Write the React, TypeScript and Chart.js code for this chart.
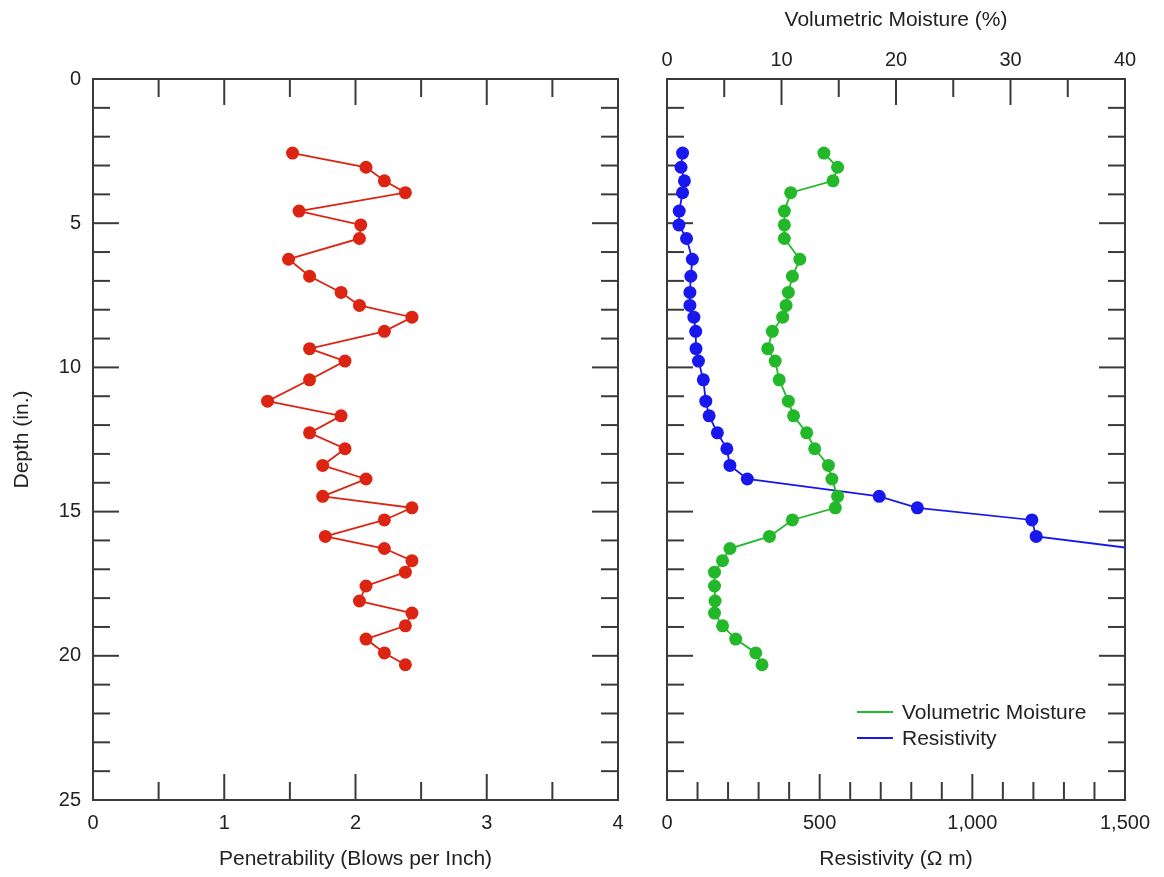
import React, { useEffect, useRef } from 'react';
import { Chart, registerables } from 'chart.js';
Chart.register(...registerables);

const depths = [2.57, 3.06, 3.53, 3.94, 4.58, 5.06, 5.53, 6.25, 6.84, 7.40, 7.85, 8.26, 8.75, 9.35, 9.78, 10.43, 11.17, 11.68, 12.27, 12.82, 13.40, 13.87, 14.47, 14.87, 15.29, 15.86, 16.28, 16.70, 17.10, 17.58, 18.10, 18.52, 18.96, 19.42, 19.90, 20.31];
const penetrability = [1.52, 2.08, 2.22, 2.38, 1.57, 2.04, 2.03, 1.49, 1.65, 1.89, 2.03, 2.43, 2.22, 1.65, 1.92, 1.65, 1.33, 1.89, 1.65, 1.92, 1.75, 2.08, 1.75, 2.43, 2.22, 1.77, 2.22, 2.43, 2.38, 2.08, 2.03, 2.43, 2.38, 2.08, 2.22, 2.38];
const resistivity = [51, 46, 57, 51, 40, 39, 64, 83, 78, 75, 75, 88, 94, 95, 103, 119, 127, 138, 165, 196, 206, 263, 695, 820, 1195, 1209, 1526];
const moisture = [13.7, 14.9, 14.5, 10.8, 10.25, 10.25, 10.25, 11.6, 10.95, 10.6, 10.4, 10.1, 9.2, 8.8, 9.45, 9.8, 10.6, 11.05, 12.2, 12.9, 14.1, 14.4, 14.9, 14.7, 10.95, 8.95, 5.5, 4.85, 4.15, 4.15, 4.2, 4.15, 4.85, 6.0, 7.75, 8.3];

const depthRange = [0, 25];
const penRange = [0, 4];
const resRange = [0, 1500];
const moistRange = [0, 40];

const FONT = '"Liberation Sans", Arial, Helvetica, sans-serif';
const TXT = '#222222';
const AXIS = '#3a3a3a';
const RED = '#dc2412';
const GREEN = '#22b82a';
const BLUE = '#1818ee';

const isMult = (v: number, m: number) => Math.abs(v / m - Math.round(v / m)) < 1e-6;

const frameTicks = {
  id: 'frameTicks',
  beforeDatasetsDraw(chart: any, _a: any, opts: any) {
    const { ctx, chartArea: a } = chart;
    ctx.save();
    ctx.strokeStyle = AXIS;
    ctx.lineWidth = 2;
    const seg = (x1: number, y1: number, x2: number, y2: number) => {
      ctx.beginPath(); ctx.moveTo(x1, y1); ctx.lineTo(x2, y2); ctx.stroke();
    };
    const ys = chart.scales[opts.y];
    ys.ticks.forEach((t: any) => {
      const p = ys.getPixelForValue(t.value);
      const len = isMult(t.value, opts.yMajor) ? 26 : 17;
      seg(a.left, p, a.left + len, p);
      seg(a.right, p, a.right - len, p);
    });
    const drawX = (id: string, major: number, top: boolean) => {
      const s = chart.scales[id];
      s.ticks.forEach((t: any) => {
        const p = s.getPixelForValue(t.value);
        const len = isMult(t.value, major) ? 26 : 18;
        if (top) seg(p, a.top, p, a.top + len);
        else seg(p, a.bottom, p, a.bottom - len);
      });
    };
    drawX(opts.bottom.id, opts.bottom.major, false);
    drawX(opts.top.id, opts.top.major, true);
    ctx.strokeRect(a.left, a.top, a.right - a.left, a.bottom - a.top);
    ctx.restore();
  },
};

const tickFont = { family: FONT, size: 20 };
const titleFont = { family: FONT, size: 21 };

function fixW(w: number) {
  return (s: any) => { s.width = w; s.paddingTop = 0; s.paddingBottom = 0; };
}
function fixH(h: number) {
  return (s: any) => { s.height = h; s.paddingLeft = 0; s.paddingRight = 0; };
}

function depthAxis(show: boolean) {
  return {
    type: 'linear',
    position: 'left',
    reverse: true,
    min: depthRange[0],
    max: depthRange[1],
    display: show,
    grid: { display: false, drawTicks: false },
    border: { display: false },
    ticks: {
      stepSize: 1,
      autoSkip: false,
      padding: 12,
      color: TXT,
      font: tickFont,
      callback: (v: any) => (isMult(v, 5) ? String(v) : ''),
    },
    title: { display: true, text: 'Depth (in.)', color: TXT, font: titleFont, padding: { top: 10, bottom: 0 } },
    afterFit: fixW(show ? 93 : 0),
  };
}

function LeftChart() {
  const ref = useRef<HTMLCanvasElement>(null);
  useEffect(() => {
    const chart = new Chart(ref.current!, {
      type: 'line',
      data: {
        datasets: [
          {
            label: 'Penetrability',
            data: depths.map((d, i) => ({ x: penetrability[i], y: d })),
            borderColor: RED,
            backgroundColor: RED,
            borderWidth: 1.8,
            pointRadius: 6.5,
            pointBorderWidth: 0,
            tension: 0,
          },
        ],
      },
      options: {
        animation: false,
        responsive: false,
        parsing: false as any,
        layout: { padding: { left: 0, right: 22, top: 79, bottom: 0 } },
        plugins: { legend: { display: false }, tooltip: { enabled: false }, frameTicks: { y: 'y', yMajor: 5, bottom: { id: 'x', major: 1 }, top: { id: 'x', major: 1 } } } as any,
        scales: {
          x: {
            type: 'linear',
            position: 'bottom',
            min: penRange[0],
            max: penRange[1],
            grid: { display: false, drawTicks: false },
            border: { display: false },
            ticks: {
              stepSize: 0.5,
              autoSkip: false,
              maxRotation: 0,
              padding: 11,
              color: TXT,
              font: tickFont,
              callback: (v: any) => (isMult(v, 1) ? String(v) : ''),
            },
            title: { display: true, text: 'Penetrability (Blows per Inch)', color: TXT, font: titleFont, padding: { top: 0, bottom: 5 } },
            afterFit: fixH(77),
          },
          y: depthAxis(true),
        } as any,
      },
      plugins: [frameTicks],
    } as any);
    return () => chart.destroy();
  }, []);
  return <canvas ref={ref} width={640} height={877} style={{ display: 'block' }} />;
}

function RightChart() {
  const ref = useRef<HTMLCanvasElement>(null);
  useEffect(() => {
    const chart = new Chart(ref.current!, {
      type: 'line',
      data: {
        datasets: [
          {
            label: 'Volumetric Moisture',
            data: depths.map((d, i) => ({ x: moisture[i], y: d })),
            xAxisID: 'x2',
            borderColor: GREEN,
            backgroundColor: GREEN,
            borderWidth: 1.8,
            pointRadius: 6.5,
            pointBorderWidth: 0,
            tension: 0,
          },
          {
            label: 'Resistivity',
            data: resistivity.map((r, i) => ({ x: r, y: depths[i] })),
            xAxisID: 'x',
            borderColor: BLUE,
            backgroundColor: BLUE,
            borderWidth: 1.8,
            pointRadius: 6.5,
            pointBorderWidth: 0,
            tension: 0,
          },
        ],
      },
      options: {
        animation: false,
        responsive: false,
        parsing: false as any,
        layout: { padding: { left: 27, right: 39, top: 0, bottom: 0 } },
        plugins: { legend: { display: false }, tooltip: { enabled: false }, frameTicks: { y: 'y', yMajor: 5, bottom: { id: 'x', major: 500 }, top: { id: 'x2', major: 10 } } } as any,
        scales: {
          x: {
            type: 'linear',
            position: 'bottom',
            min: resRange[0],
            max: resRange[1],
            grid: { display: false, drawTicks: false },
            border: { display: false },
            ticks: {
              stepSize: 100,
              autoSkip: false,
              maxRotation: 0,
              padding: 11,
              color: TXT,
              font: tickFont,
              callback: (v: any) => (isMult(v, 500) ? Number(v).toLocaleString('en-US') : ''),
            },
            title: { display: true, text: 'Resistivity (\u03A9 m)', color: TXT, font: titleFont, padding: { top: 0, bottom: 5 } },
            afterFit: fixH(77),
          },
          x2: {
            type: 'linear',
            position: 'top',
            min: moistRange[0],
            max: moistRange[1],
            grid: { display: false, drawTicks: false },
            border: { display: false },
            ticks: {
              stepSize: 5,
              autoSkip: false,
              maxRotation: 0,
              padding: 7,
              color: TXT,
              font: tickFont,
              callback: (v: any) => (isMult(v, 10) ? String(v) : ''),
            },
            title: { display: true, text: 'Volumetric Moisture (%)', color: TXT, font: titleFont, padding: { top: 8, bottom: 0 } },
            afterFit: fixH(79),
          },
          y: depthAxis(false),
        } as any,
      },
      plugins: [frameTicks],
    } as any);
    return () => chart.destroy();
  }, []);
  return <canvas ref={ref} width={524} height={877} style={{ display: 'block' }} />;
}

const legendItems = [
  { label: 'Volumetric Moisture', color: GREEN },
  { label: 'Resistivity', color: BLUE },
];

export default function App() {
  return (
    <div style={{ position: 'absolute', left: 0, top: 0, width: 1164, height: 877, background: '#fff', overflow: 'hidden' }}>
      <div style={{ position: 'absolute', left: 0, top: 0 }}>
        <LeftChart />
      </div>
      <div style={{ position: 'absolute', left: 640, top: 0 }}>
        <RightChart />
      </div>
      <div style={{ position: 'absolute', left: 857, top: 699, fontFamily: FONT, fontSize: 21, color: TXT }}>
        {legendItems.map((it) => (
          <div key={it.label} style={{ display: 'flex', alignItems: 'center', height: 26 }}>
            <span style={{ display: 'inline-block', width: 36, height: 2, background: it.color, marginRight: 9 }} />
            <span>{it.label}</span>
          </div>
        ))}
      </div>
    </div>
  );
}
